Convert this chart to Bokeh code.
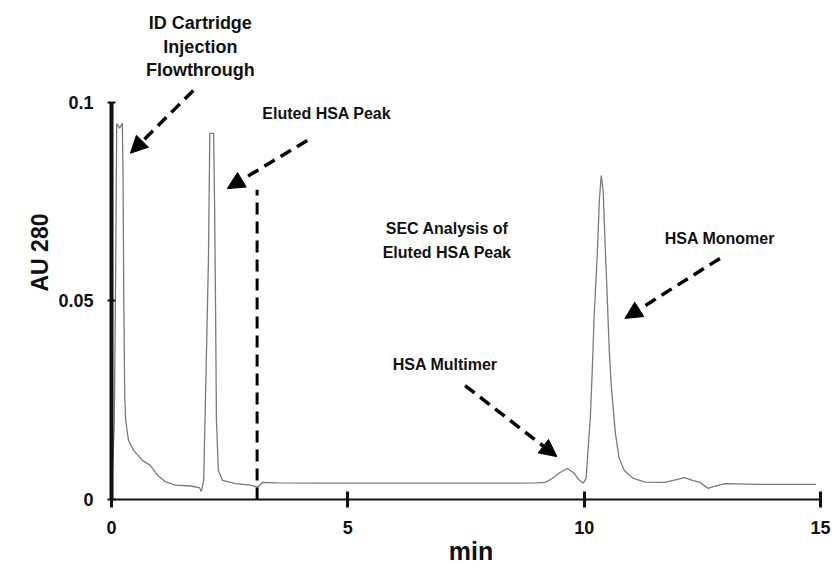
from bokeh.plotting import figure
from bokeh.models import (Range1d, FixedTicker, Arrow, NormalHead, ColumnDataSource)
from bokeh.core.properties import value
from bokeh.embed import file_html
from bokeh.resources import INLINE

# Chromatogram trace: ID-cartridge injection followed by SEC of the eluted HSA peak
time_min = [0.00, 0.03, 0.06, 0.09, 0.11, 0.17, 0.23, 0.245, 0.26, 0.28,
            0.30, 0.36, 0.47, 0.66, 0.82, 0.97, 1.14, 1.35, 1.67, 1.86,
            1.90, 1.95, 2.01, 2.05, 2.08, 2.16, 2.18, 2.20, 2.22, 2.26,
            2.35, 2.62, 2.94, 3.09, 3.19, 3.50, 4.50, 5.50, 6.50, 7.50,
            8.50, 9.00, 9.18, 9.32, 9.49, 9.64, 9.77, 9.89, 9.98, 10.04,
            10.08, 10.13, 10.17, 10.21, 10.28, 10.32, 10.36, 10.40, 10.44, 10.49,
            10.53, 10.57, 10.66, 10.74, 10.85, 11.04, 11.29, 11.71, 11.95, 12.12,
            12.29, 12.45, 12.62, 12.75, 12.98, 13.70, 14.90]
au280 = [0.0030, 0.0100, 0.0200, 0.0600, 0.0947, 0.0935, 0.0947, 0.0800, 0.0500, 0.0260,
         0.0199, 0.0149, 0.0123, 0.0098, 0.0086, 0.0062, 0.0045, 0.0036, 0.0034, 0.0030,
         0.0020, 0.0048, 0.0375, 0.0600, 0.0922, 0.0922, 0.0750, 0.0500, 0.0200, 0.0073,
         0.0048, 0.0040, 0.0036, 0.0031, 0.0043, 0.0042, 0.0041, 0.0041, 0.0041, 0.0041,
         0.0041, 0.0042, 0.0043, 0.0053, 0.0068, 0.0078, 0.0068, 0.0050, 0.0041, 0.0053,
         0.0123, 0.0207, 0.0325, 0.0460, 0.0627, 0.0753, 0.0816, 0.0780, 0.0650, 0.0500,
         0.0375, 0.0290, 0.0166, 0.0103, 0.0073, 0.0053, 0.0044, 0.0043, 0.0050, 0.0055,
         0.0048, 0.0043, 0.0028, 0.0033, 0.0040, 0.0038, 0.0038]

# Axis ticks
x_ticks = [0, 5, 10, 15]
y_ticks = [0, 0.05, 0.1]
y_tick_labels = ["0", "0.05", "0.1"]

# Fraction cut (start of SEC analysis)
cut_time = 3.08
cut_top = 0.078

# Annotation texts and their anchor points (min, AU)
top_note_lines = ["ID Cartridge", "Injection", "Flowthrough"]
top_note_x = [1.88, 1.88, 1.88]
top_note_y = [0.1199, 0.1139, 0.1081]

note_texts = ["Eluted HSA Peak", "SEC Analysis of", "Eluted HSA Peak", "HSA Monomer", "HSA Multimer"]
note_x = [3.19, 7.10, 7.10, 12.87, 7.06]
note_y = [0.0972, 0.0683, 0.0622, 0.0657, 0.0340]
note_align = ["left", "center", "center", "center", "center"]

# Pointer arrows: (x_start, y_start, x_end, y_end)
arrow_x0 = [1.73, 4.14, 7.48, 12.87]
arrow_y0 = [0.1030, 0.0904, 0.0287, 0.0607]
arrow_x1 = [0.40, 2.45, 9.42, 10.86]
arrow_y1 = [0.0872, 0.0783, 0.0108, 0.0456]

FONT = "Liberation Sans"

p = figure(width=832, height=568,
           x_range=Range1d(0, 15.21), y_range=Range1d(0, 0.1244),
           min_border_left=111, min_border_right=2,
           min_border_top=5, min_border_bottom=69,
           output_backend="svg", toolbar_location=None)
p.outline_line_color = None
p.xgrid.visible = False
p.ygrid.visible = False
p.background_fill_color = "white"
p.border_fill_color = "white"

# x axis
xa = p.xaxis[0]
xa.ticker = FixedTicker(ticks=x_ticks)
xa.bounds = (0, 15)
xa.axis_line_width = 2
xa.axis_line_color = "#111111"
xa.major_tick_in = 8
xa.major_tick_out = 8
xa.major_tick_line_width = 3
xa.major_tick_line_color = "#111111"
xa.minor_tick_line_color = None
xa.major_label_standoff = 13
xa.major_label_text_font = FONT
xa.major_label_text_font_style = "bold"
xa.major_label_text_font_size = "18px"
xa.major_label_text_color = "#111111"
xa.axis_label = "min"
xa.axis_label_standoff = 0
xa.axis_label_text_font = FONT
xa.axis_label_text_font_style = "bold"
xa.axis_label_text_font_size = "25px"
xa.axis_label_text_color = "#111111"

# y axis
ya = p.yaxis[0]
ya.ticker = FixedTicker(ticks=y_ticks)
ya.major_label_overrides = {t: s for t, s in zip(y_ticks, y_tick_labels)}
ya.bounds = (0, 0.1)
ya.axis_line_width = 4
ya.axis_line_color = "#111111"
ya.major_tick_in = 4
ya.major_tick_out = 4
ya.major_tick_line_width = 2
ya.major_tick_line_color = "#111111"
ya.minor_tick_line_color = None
ya.major_label_standoff = 14
ya.major_label_text_font = FONT
ya.major_label_text_font_style = "bold"
ya.major_label_text_font_size = "18px"
ya.major_label_text_color = "#111111"
ya.axis_label = "AU 280"
ya.axis_label_standoff = 2
ya.axis_label_text_font = FONT
ya.axis_label_text_font_style = "bold"
ya.axis_label_text_font_size = "23px"
ya.axis_label_text_color = "#111111"

# trace
p.line(time_min, au280, line_color="#7a7a7a", line_width=1.3)

# fraction cut marker
p.segment(x0=[cut_time], y0=[0], x1=[cut_time], y1=[cut_top],
          line_color="black", line_width=3, line_dash="12 7")

# pointer arrows
for xs, ys, xe, ye in zip(arrow_x0, arrow_y0, arrow_x1, arrow_y1):
    p.add_layout(Arrow(end=NormalHead(size=17, fill_color="black", line_color="black"),
                       x_start=xs, y_start=ys, x_end=xe, y_end=ye,
                       line_color="black", line_width=3.5, line_dash="12 7"))

# annotation texts
top_src = ColumnDataSource(dict(x=top_note_x, y=top_note_y, t=top_note_lines))
p.text(x="x", y="y", text="t", source=top_src,
       text_font=value(FONT), text_font_style="bold", text_font_size="18px",
       text_align="center", text_baseline="middle", text_color="#111111")

note_src = ColumnDataSource(dict(x=note_x, y=note_y, t=note_texts, a=note_align))
p.text(x="x", y="y", text="t", source=note_src, text_align="a",
       text_font=value(FONT), text_font_style="bold", text_font_size="16px",
       text_baseline="middle", text_color="#111111")

open("out.html", "w").write(file_html(p, INLINE))
